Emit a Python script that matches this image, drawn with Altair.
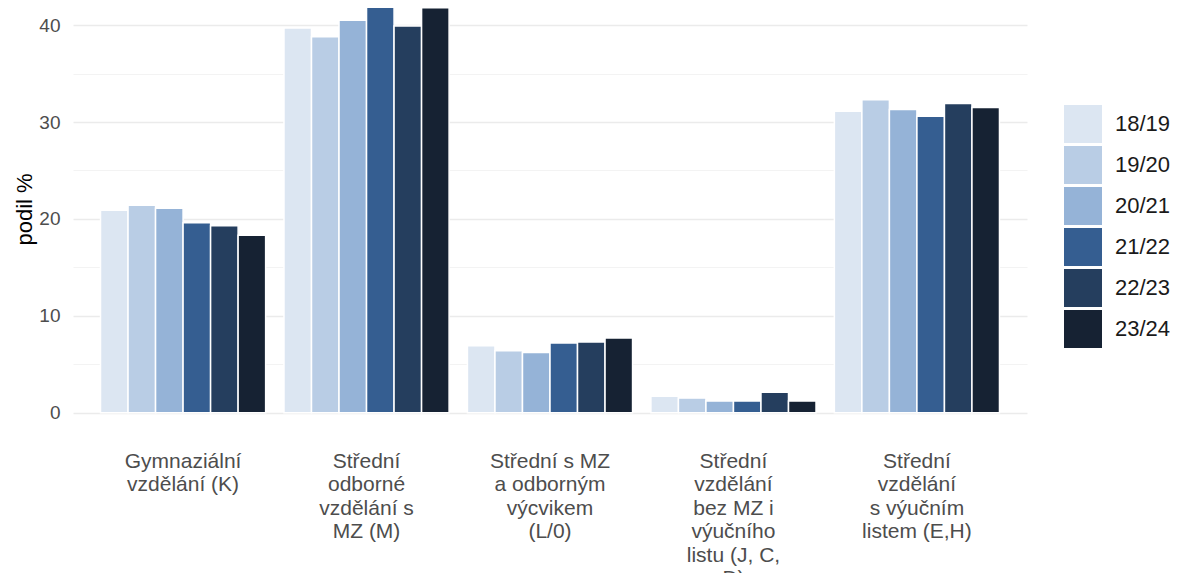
import altair as alt
import pandas as pd

categories = [
    "Gymnaziální\nvzdělání (K)",
    "Střední\nodborné\nvzdělání s\nMZ (M)",
    "Střední s MZ\na odborným\nvýcvikem\n(L/0)",
    "Střední\nvzdělání\nbez MZ i\nvýučního\nlistu (J, C,\nD)",
    "Střední\nvzdělání\ns výučním\nlistem (E,H)",
]
years = ["18/19", "19/20", "20/21", "21/22", "22/23", "23/24"]

gymn = [20.9, 21.4, 21.1, 19.6, 19.3, 18.3]
sos_m = [39.7, 38.8, 40.5, 42.0, 39.9, 41.8]
l0 = [6.9, 6.4, 6.2, 7.2, 7.3, 7.7]
jcd = [1.7, 1.5, 1.2, 1.2, 2.1, 1.2]
eh = [31.1, 32.3, 31.3, 30.6, 31.9, 31.5]

colors = ["#dce6f2", "#b9cde5", "#95b3d7", "#355e91", "#253e5e", "#162233"]

series = [gymn, sos_m, l0, jcd, eh]
rows = []
for cat, vals in zip(categories, series):
    for yr, v in zip(years, vals):
        rows.append({"kategorie": cat, "rok": yr, "podil": v})
df = pd.DataFrame(rows)

FONT = "Liberation Sans"

chart = (
    alt.Chart(df)
    .mark_bar(stroke="white", strokeWidth=1.5)
    .encode(
        x=alt.X(
            "kategorie:N",
            sort=categories,
            scale=alt.Scale(paddingInner=0.1, paddingOuter=0.15),
            axis=alt.Axis(
                title=None,
                labelExpr="split(datum.label, '\\n')",
                labelAngle=0,
                labelAlign="center",
                labelBaseline="top",
                labelPadding=17,
                labelFontSize=21,
                labelLineHeight=23.5,
                labelColor="#4d4d4d",
                labelFont=FONT,
                labelLimit=0,
                labelOverlap=False,
                domain=False,
                ticks=False,
                grid=False,
            ),
        ),
        xOffset=alt.XOffset(
            "rok:N", sort=years, scale=alt.Scale(paddingInner=0, paddingOuter=0)
        ),
        y=alt.Y(
            "podil:Q",
            scale=alt.Scale(domain=[-2.1, 41.77], nice=False, zero=False),
            axis=alt.Axis(
                title="podil %",
                values=[0, 5, 10, 15, 20, 25, 30, 35, 40],
                labelExpr="datum.value % 10 === 0 ? datum.label : ''",
                labelFontSize=19,
                labelColor="#4d4d4d",
                labelFont=FONT,
                labelPadding=13,
                domain=False,
                ticks=False,
                gridColor={
                    "condition": {"test": "datum.value % 10 === 0", "value": "#ebebeb"},
                    "value": "#f3f3f3",
                },
                gridWidth={
                    "condition": {"test": "datum.value % 10 === 0", "value": 1.6},
                    "value": 1.1,
                },
                titleFontSize=22,
                titleFont=FONT,
                titleFontWeight="normal",
                titleColor="#000000",
                titleAngle=-90,
                titleX=-49,
                titleY=201,
                titleAlign="center",
                titleBaseline="middle",
            ),
        ),
        color=alt.Color(
            "rok:N",
            sort=years,
            scale=alt.Scale(domain=years, range=colors),
            legend=alt.Legend(
                title=None,
                orient="none",
                legendX=991,
                legendY=97,
                symbolType="square",
                symbolSize=1444,
                symbolStrokeWidth=0,
                symbolOpacity=1,
                labelFontSize=22,
                labelFont=FONT,
                labelColor="#1a1a1a",
                labelOffset=13,
                rowPadding=3,
                padding=0,
            ),
        ),
    )
    .properties(
        width=954,
        height=425,
        background="white",
        autosize=alt.AutoSizeParams(type="none"),
        padding={"left": 65, "top": 0, "right": 144, "bottom": 140},
    )
    .configure_view(strokeWidth=0, stroke=None)
)

chart.save("out.html", embed_options={"renderer": "svg", "actions": False})
